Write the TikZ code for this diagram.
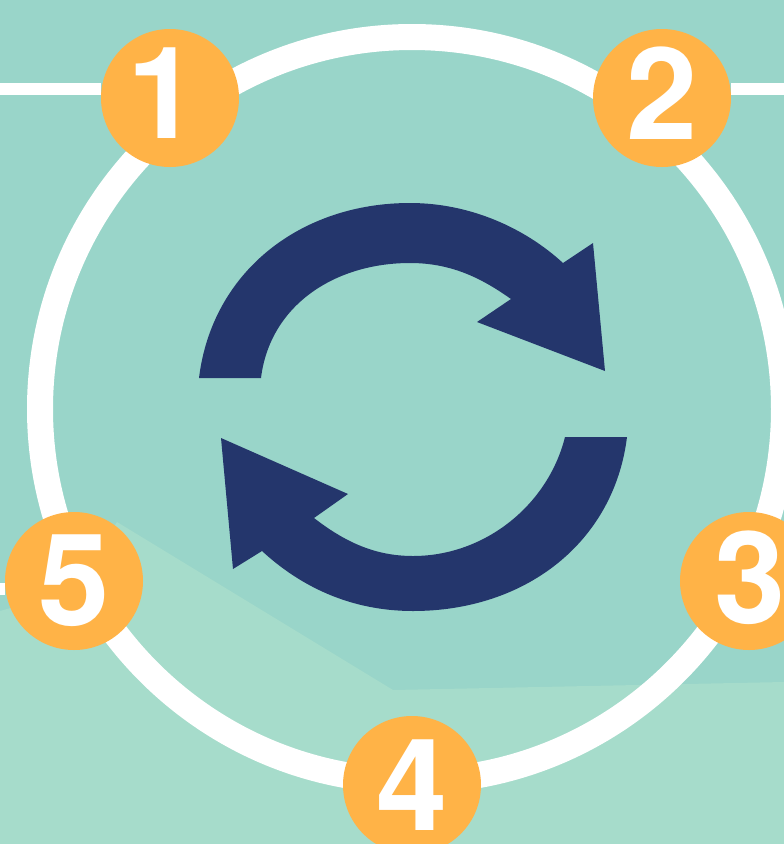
\documentclass[tikz,border=0pt]{standalone}
\usepackage{fontspec}
\setmainfont{TeX Gyre Heros}
\definecolor{bgtop}{HTML}{99D5C9}
\definecolor{bglow}{HTML}{A6DCCB}
\definecolor{navy}{HTML}{24366C}
\definecolor{badge}{HTML}{FFB347}
\tikzset{
  badgenode/.style={circle,fill=badge,draw=none,minimum size=103.5pt,inner sep=0pt,text=white,font=\fontsize{96}{96}\selectfont\bfseries},
  ringnode/.style={circle,draw=white,line width=19.5pt,minimum size=558pt,inner sep=0pt},
  linkline/.style={draw=white,line width=9pt},
  arrowshape/.style={fill=navy,draw=none}
}
\begin{document}
\begin{tikzpicture}[x=0.75pt,y=-0.75pt]
\useasboundingbox (0,0) rectangle (784,844);
\clip (0,0) rectangle (784,844);
\fill[bgtop] (0,0) rectangle (784,844);
\fill[bglow] (0,844) -- (0,611) -- (74,590) -- (117,522) -- (393,690) -- (784,682) -- (784,844) -- cycle;
\node[ringnode] (ring) at (412,409) {};
\node[badgenode,text depth=7.5pt] (one) at (170,98) {\hspace*{-10pt}1};
\node[badgenode,text depth=7.5pt] (two) at (662,98) {2};
\node[badgenode,text depth=6pt] (three) at (749,581) {\hspace*{2pt}3};
\node[badgenode,text depth=0pt] (four) at (412,785) {4};
\node[badgenode,text depth=2pt] (five) at (74,581) {5};
\coordinate (ltop) at (0,89);
\coordinate (rtop) at (784,89);
\coordinate (lmid) at (0,589);
\draw[linkline] (ltop) -- (one.west |- ltop);
\draw[linkline] (rtop) -- (two.east |- rtop);
\draw[linkline] (lmid) -- (five.west |- lmid);
\fill[arrowshape] (199,378) .. controls (212,272) and (300,203) .. (410,203)
  .. controls (470,203) and (525,228) .. (563,263) -- (593,243) -- (605,371) -- (477,322) -- (511,299)
  .. controls (480,277) and (450,263) .. (410,263)
  .. controls (335,263) and (270,305) .. (261,378) -- cycle;
\fill[arrowshape] (627,437) .. controls (614,542) and (526,611) .. (413,611)
  .. controls (350,611) and (300,586) .. (262,551) -- (233,569) -- (221,438) -- (348,494) -- (314,518)
  .. controls (345,542) and (375,556) .. (413,556)
  .. controls (485,556) and (548,505) .. (565,437) -- cycle;
\end{tikzpicture}
\end{document}
